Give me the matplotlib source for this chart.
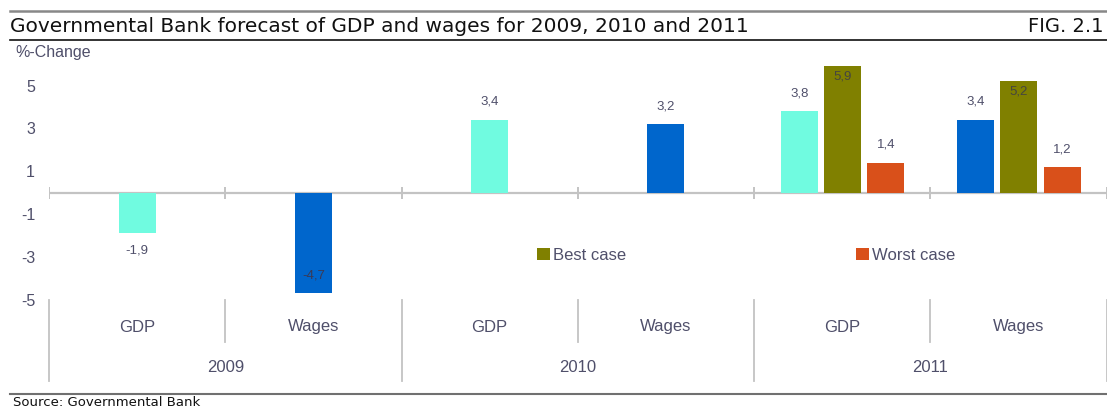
import matplotlib
matplotlib.use("Agg")
import matplotlib.pyplot as plt
import matplotlib.transforms as mtransforms

# chart data
groups = ["GDP", "Wages", "GDP", "Wages", "GDP", "Wages"]
years = ["2009", "2010", "2011"]
base_values = [-1.9, -4.7, 3.4, 3.2, 3.8, 3.4]
best_values = [None, None, None, None, 5.9, 5.2]
worst_values = [None, None, None, None, 1.4, 1.2]
y_ticks = [-5, -3, -1, 1, 3, 5]

CYAN = "#70FBE0"
BLUE = "#0066CC"
OLIVE = "#808000"
ORANGE = "#D9501A"
TEXT = "#4F4F6A"
GRID = "#C3C3C3"

W, H = 1107, 407
narrow = ["Liberation Sans Narrow", "Liberation Sans", "DejaVu Sans"]


def fy(px):
    # pixel row -> figure fraction
    return 1 - px / H


def fx(px):
    return px / W


def fmt(v):
    return f"{v:.1f}".replace(".", ",")


fig = plt.figure(figsize=(W / 100, H / 100), dpi=100)
ax = fig.add_axes([fx(49), fy(299.7), fx(1106.5) - fx(49), fy(64.3) - fy(299.7)])

bar_w = 0.21
offsets = [-0.243, 0.0, 0.248]

# main bars (GDP cyan, Wages blue)
for i, v in enumerate(base_values):
    color = CYAN if groups[i] == "GDP" else BLUE
    x = i + 0.5
    if best_values[i] is not None:
        x += offsets[0]
    ax.bar(x, v, width=bar_w, color=color, zorder=3)
    if v >= 0:
        off, col = 18, TEXT
    elif v < -4:
        # no room below the bar, label sits inside it
        off, col = 18, "#3a3a55"
    else:
        off, col = -17, TEXT
    ax.annotate(fmt(v), (x, v), xytext=(0, off), textcoords="offset pixels",
                ha="center", va="center", fontsize=9.5, color=col,
                family=narrow, zorder=4)

best_bar = worst_bar = None
for i in range(len(groups)):
    if best_values[i] is None:
        continue
    xb = i + 0.5 + offsets[1]
    xw = i + 0.5 + offsets[2]
    best_bar = ax.bar(xb, best_values[i], width=bar_w, color=OLIVE, zorder=3)
    worst_bar = ax.bar(xw, worst_values[i], width=bar_w, color=ORANGE, zorder=3)
    ax.annotate(fmt(best_values[i]), (xb, best_values[i]), xytext=(0, -10),
                textcoords="offset pixels", ha="center", va="center",
                fontsize=9.5, color="#45453f", family=narrow, zorder=4)
    ax.annotate(fmt(worst_values[i]), (xw, worst_values[i]), xytext=(0, 18),
                textcoords="offset pixels", ha="center", va="center",
                fontsize=9.5, color=TEXT, family=narrow, zorder=4)

ax.set_xlim(0, len(groups))
ax.set_ylim(-5, 6)
ax.axhline(0, color=GRID, lw=1.6, zorder=2)
ax.vlines(range(len(groups) + 1), -0.28, 0.28, color=GRID, lw=1.4, zorder=2)

for s in ax.spines.values():
    s.set_visible(False)
ax.set_xticks([])
ax.set_yticks(y_ticks)
ax.set_yticklabels([str(t) for t in y_ticks], family=narrow, fontsize=11.5, color=TEXT)
ax.tick_params(axis="y", length=0, pad=10)

# category axis below the plot
trans = mtransforms.blended_transform_factory(ax.transData, fig.transFigure)
for b in range(len(groups) + 1):
    bottom = 381 if b % 2 == 0 else 342
    ax.plot([b, b], [fy(300), fy(bottom)], color=GRID, lw=1.3,
            transform=trans, clip_on=False)
for i, g in enumerate(groups):
    ax.text(i + 0.5, fy(327), g, transform=trans, ha="center", va="center",
            fontsize=12, color=TEXT, family=narrow)
for j, yr in enumerate(years):
    ax.text(2 * j + 1, fy(368), yr, transform=trans, ha="center", va="center",
            fontsize=12, color=TEXT, family=narrow)

# legend: two separate entries
leg_kw = dict(frameon=False, prop={"family": narrow, "size": 12},
              handlelength=0.75, handleheight=0.75, handletextpad=0.2,
              borderpad=0, borderaxespad=0, loc="center left",
              bbox_transform=fig.transFigure, labelcolor=TEXT)
leg1 = ax.legend([best_bar], ["Best case"], bbox_to_anchor=(fx(537), fy(255)), **leg_kw)
ax.add_artist(leg1)
ax.legend([worst_bar], ["Worst case"], bbox_to_anchor=(fx(856), fy(255)), **leg_kw)

fig.text(fx(15), fy(52), "%-Change", ha="left", va="center",
         fontsize=11.5, color=TEXT, family=narrow)

# header and footer
fig.text(fx(10), fy(27), "Governmental Bank forecast of GDP and wages for 2009, 2010 and 2011",
         ha="left", va="center", fontsize=14.5, color="#111111", family="DejaVu Sans")
fig.text(fx(1103), fy(27), "FIG. 2.1", ha="right", va="center",
         fontsize=14, color="#111111", family="DejaVu Sans")
fig.text(fx(13), fy(405.5), "Source: Governmental Bank", ha="left", va="baseline",
         fontsize=9.5, color="#111111", family="DejaVu Sans")

fig.add_artist(plt.Line2D([fx(10), fx(1107)], [fy(10.5), fy(10.5)], color="#888888", lw=1.8))
fig.add_artist(plt.Line2D([fx(10), fx(1107)], [fy(40), fy(40)], color="#111111", lw=1.2))
fig.add_artist(plt.Line2D([fx(10), fx(1107)], [fy(394), fy(394)], color="#707070", lw=1.5))

fig.savefig("out.png", dpi=100)
